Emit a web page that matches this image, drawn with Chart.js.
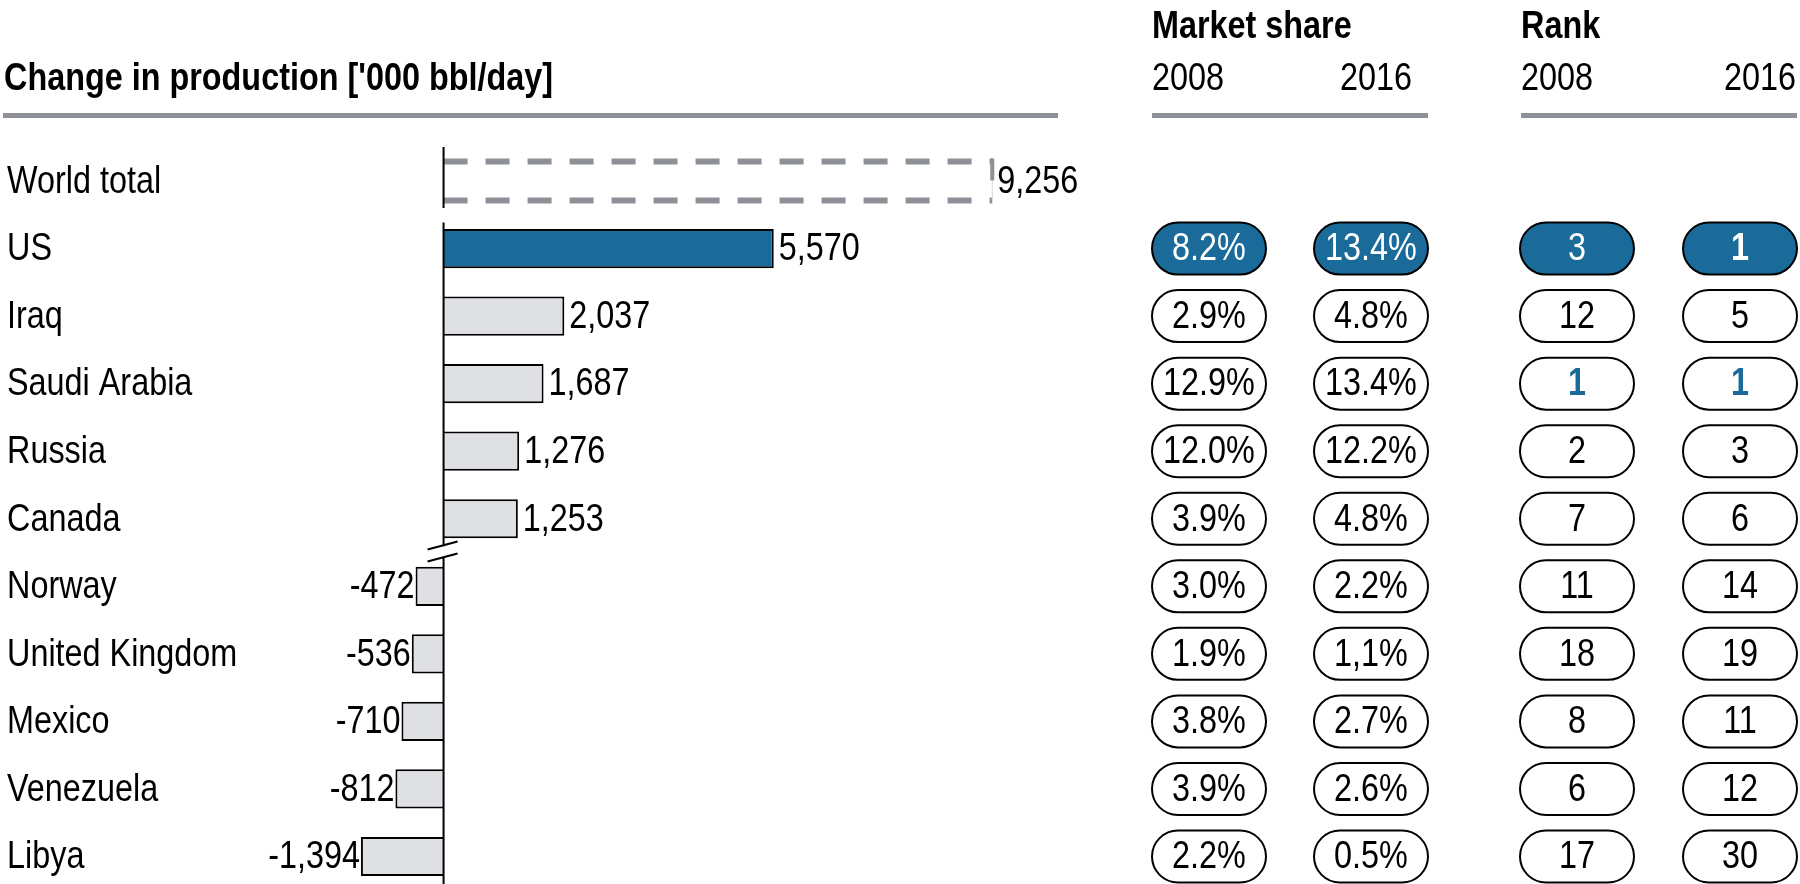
<!DOCTYPE html>
<html>
<head>
<meta charset="utf-8">
<title>Change in production</title>
<script src="https://cdn.jsdelivr.net/npm/chart.js@4.4.1/dist/chart.umd.min.js"></script>
<style>
html,body{margin:0;padding:0;background:#fff;overflow:hidden}
#wrapper{width:1800px;height:884px}
</style>
</head>
<body>
<div id="wrapper"><canvas id="grafico" width="1800" height="884"></canvas></div>
<script>
"use strict";
// dati
const paesi = ["World total", "US", "Iraq", "Saudi Arabia", "Russia", "Canada", "Norway", "United Kingdom", "Mexico", "Venezuela", "Libya"];
const variazione = [9256, 5570, 2037, 1687, 1276, 1253, -472, -536, -710, -812, -1394];
const quota2008 = [null, "8.2%", "2.9%", "12.9%", "12.0%", "3.9%", "3.0%", "1.9%", "3.8%", "3.9%", "2.2%"];
const quota2016 = [null, "13.4%", "4.8%", "13.4%", "12.2%", "4.8%", "2.2%", "1,1%", "2.7%", "2.6%", "0.5%"];
const rank2008 = [null, 3, 12, 1, 2, 7, 11, 18, 8, 6, 17];
const rank2016 = [null, 1, 5, 1, 3, 6, 14, 19, 11, 12, 30];
const paeseEvidenziato = "US";
const totale = "World total";

const BLU = "#1a6a9a";
const GRIGIO = "#8d9197";
const CHIARO = "#dfe0e3";
const FONT = "'Liberation Sans Narrow','Arial Narrow','Liberation Sans',Arial,sans-serif";
const STRETTO = 0.83; // il font stretto non c'e', comprimo in orizzontale

Chart.defaults.font.family = FONT;
Chart.defaults.color = "#000";

// colonne della tabella a destra
const colonne = [
    {x: 1209, valori: quota2008},
    {x: 1371, valori: quota2016},
    {x: 1577, valori: rank2008, rank: true},
    {x: 1740, valori: rank2016, rank: true}
];

function scrivi(ctx, s, x, y, allinea) {
    ctx.save();
    ctx.translate(x, y);
    ctx.scale(STRETTO, 1);
    ctx.textAlign = allinea;
    ctx.fillText(s, 0, 0);
    ctx.restore();
}

const decorazioni = {
    id: "decorazioni",
    afterDraw(chart) {
        const ctx = chart.ctx;
        const meta = chart.getDatasetMeta(0);
        const zero = chart.scales.x.getPixelForValue(0);
        ctx.save();

        // intestazioni
        ctx.fillStyle = "#000";
        ctx.textBaseline = "alphabetic";
        ctx.font = "bold 39px " + FONT;
        scrivi(ctx, "Change in production ['000 bbl/day]", 4, 90, "left");
        scrivi(ctx, "Market share", 1152, 38, "left");
        scrivi(ctx, "Rank", 1521, 38, "left");
        ctx.font = "39px " + FONT;
        scrivi(ctx, "2008", 1152, 90, "left");
        scrivi(ctx, "2016", 1340, 90, "left");
        scrivi(ctx, "2008", 1521, 90, "left");
        scrivi(ctx, "2016", 1796, 90, "right");

        ctx.fillStyle = GRIGIO;
        ctx.fillRect(3, 113, 1055, 5);
        ctx.fillRect(1152, 113, 276, 5);
        ctx.fillRect(1521, 113, 276, 5);

        // riquadro tratteggiato del totale
        const b0 = meta.data[0];
        const alto = b0.y - b0.height / 2;
        const basso = b0.y + b0.height / 2;
        ctx.strokeStyle = GRIGIO;
        ctx.lineWidth = 6;
        ctx.setLineDash([24, 18]);
        ctx.beginPath();
        ctx.moveTo(zero, alto); ctx.lineTo(b0.x, alto);
        ctx.moveTo(zero, basso); ctx.lineTo(b0.x, basso);
        ctx.stroke();
        ctx.lineWidth = 1;
        ctx.setLineDash([]);
        ctx.strokeStyle = "#d4d6d9";
        ctx.beginPath();
        ctx.moveTo(b0.x, alto); ctx.lineTo(b0.x, basso);
        ctx.stroke();
        ctx.fillStyle = GRIGIO;
        ctx.fillRect(b0.x - 2, alto - 3, 4, 22);

        // asse dello zero con interruzione
        const rottura = (meta.data[5].y + meta.data[6].y) / 2;
        ctx.strokeStyle = "#000";
        ctx.lineWidth = 2;
        ctx.beginPath();
        ctx.moveTo(zero, b0.y - 34); ctx.lineTo(zero, b0.y + 27);
        ctx.moveTo(zero, meta.data[1].y - 26); ctx.lineTo(zero, rottura - 6);
        ctx.moveTo(zero, rottura + 5); ctx.lineTo(zero, chart.height);
        ctx.moveTo(zero - 16, rottura - 3); ctx.lineTo(zero + 14, rottura - 11);
        ctx.moveTo(zero - 16, rottura + 9); ctx.lineTo(zero + 14, rottura + 1);
        ctx.stroke();

        // nomi dei paesi e etichette dei valori
        ctx.fillStyle = "#000";
        ctx.font = "39px " + FONT;
        ctx.textBaseline = "middle";
        meta.data.forEach(function (barra, i) {
            scrivi(ctx, paesi[i], 7, barra.y + 1, "left");
            const v = variazione[i];
            const t = v.toLocaleString("en-US");
            if (v >= 0) {
                scrivi(ctx, t, barra.x + 5, barra.y + 1, "left");
            } else {
                scrivi(ctx, t, barra.x - 1, barra.y + 1, "right");
            }
        });

        // pillole della tabella
        for (const col of colonne) {
            meta.data.forEach(function (barra, i) {
                const val = col.valori[i];
                if (val === null) return;
                const pieno = paesi[i] === paeseEvidenziato;
                const w = 114, h = 52;
                ctx.beginPath();
                ctx.roundRect(col.x - w / 2, barra.y - h / 2, w, h, h / 2);
                ctx.fillStyle = pieno ? BLU : "#fff";
                ctx.fill();
                ctx.lineWidth = 2;
                ctx.strokeStyle = "#000";
                ctx.stroke();
                const primo = col.rank && val === 1;
                ctx.font = (primo ? "bold " : "") + "39px " + FONT;
                ctx.fillStyle = pieno ? "#fff" : (primo ? BLU : "#000");
                scrivi(ctx, String(val), col.x, barra.y + 1, "center");
            });
        }
        ctx.restore();
    }
};

const grafico = new Chart(document.getElementById("grafico"), {
    type: "bar",
    data: {
        labels: paesi,
        datasets: [{
            data: variazione,
            backgroundColor: paesi.map(p => p === totale ? "rgba(0,0,0,0)" : (p === paeseEvidenziato ? BLU : CHIARO)),
            borderColor: paesi.map(p => p === totale ? "rgba(0,0,0,0)" : "#000"),
            borderWidth: 2,
            barPercentage: 0.58,
            categoryPercentage: 1,
            clip: false
        }]
    },
    options: {
        indexAxis: "y",
        responsive: false,
        animation: false,
        layout: {padding: {left: 325, right: 734, top: 181, bottom: 27.5}},
        plugins: {legend: {display: false}, tooltip: {enabled: false}},
        scales: {
            x: {display: false, min: -2000, max: 10500},
            y: {display: false, offset: false}
        }
    },
    plugins: [decorazioni]
});
</script>
</body>
</html>
